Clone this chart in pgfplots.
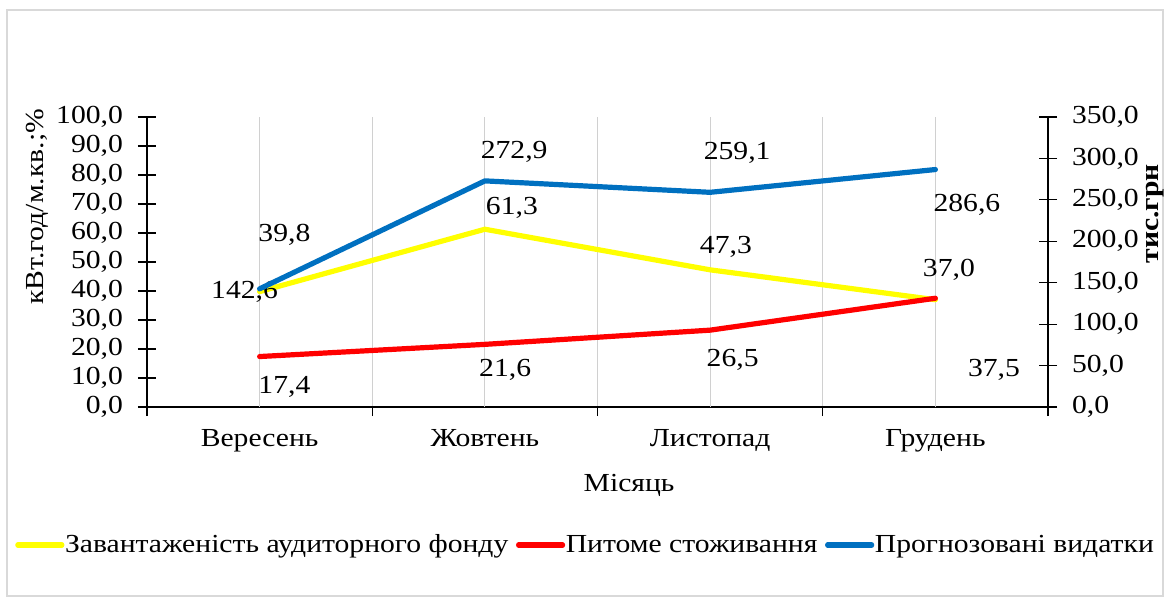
\documentclass[border=0pt]{standalone}
\usepackage{fontspec}
\setmainfont{Liberation Serif}[FakeStretch=1.14]
\usepackage{pgfplots}
\pgfplotsset{compat=1.18}
\definecolor{serY}{HTML}{FFFF00}
\definecolor{serR}{HTML}{FF0000}
\definecolor{serB}{HTML}{0070C0}
\definecolor{gridc}{HTML}{D0D0D0}
\definecolor{framec}{HTML}{D9D9D9}
\newcommand{\lab}{\fontsize{13}{15}\selectfont}

\pgfplotsset{
  common/.style={
    scale only axis, width=450.5pt, height=145pt,
    xmin=-0.5, xmax=3.5,
    tick label style={font=\lab},
    /pgf/number format/fixed,
    /pgf/number format/fixed zerofill,
    /pgf/number format/precision=1,
    /pgf/number format/use comma,
    /pgf/number format/1000 sep={},
    /pgf/number format/assume math mode=true,
    major tick length=9pt,
    ytick align=center,
    tick style={black, line width=0.6pt},
    axis line style={black, line width=0.6pt},
    clip=false,
  },
  ser/.style={line width=2.6pt, line cap=round, line join=round},
}

\begin{document}
\begin{tikzpicture}
\path[use as bounding box] (-73.5pt,-96pt) rectangle (511.5pt,203.5pt);
\draw[framec, line width=0.7pt] (-70pt,-94.5pt) rectangle (508pt,198.5pt);

\begin{axis}[common,
  axis x line*=bottom, axis y line*=left,
  ymin=0, ymax=100, ytick={0,10,...,100},
  yticklabel style={xshift=-4pt},
  xtick={-0.5,0.5,1.5,2.5,3.5}, xticklabels={},
  xtick align=outside,
  x tick style={dash pattern=on 4.5pt off 4.5pt, dash phase=4.5pt},
  xmajorgrids, grid style={gridc, line width=0.6pt, solid},
  extra x ticks={0,1,2,3},
  extra x tick labels={Вересень,Жовтень,Листопад,Грудень},
  extra x tick style={major tick length=0pt, grid=major,
    xticklabel style={anchor=base, yshift=-19.5pt}},
  legend style={draw=none, fill=none, font=\lab, legend columns=-1,
    at={(0.486,-0.476)}, anchor=center,
    /tikz/every even column/.append style={column sep=3.5pt},
    nodes={inner xsep=0.3pt},
    inner sep=0pt},
  legend image code/.code={\draw[#1] (0pt,0pt) -- (22pt,0pt);},
]
\addplot[ser, serY] coordinates {(0,39.8)(1,61.3)(2,47.3)(3,37.0)};
\addlegendentry{Завантаженість аудиторного фонду}
\addplot[ser, serR] coordinates {(0,17.4)(1,21.6)(2,26.5)(3,37.5)};
\addlegendentry{Питоме стоживання}
\addlegendimage{ser, serB}
\addlegendentry{Прогнозовані видатки}

\node[font=\lab] at (axis cs:0.11,59.3) {39,8};
\node[font=\lab] at (axis cs:1.12,68.6) {61,3};
\node[font=\lab] at (axis cs:2.07,55.2) {47,3};
\node[font=\lab] at (axis cs:3.06,47.2) {37,0};
\node[font=\lab] at (axis cs:0.11,6.9) {17,4};
\node[font=\lab] at (axis cs:1.09,12.8) {21,6};
\node[font=\lab] at (axis cs:2.10,16.2) {26,5};
\node[font=\lab] at (axis cs:3.26,12.8) {37,5};
\node[font=\lab] at (axis cs:-0.067,39.7) {142,6};
\node[font=\lab] at (axis cs:1.13,87.9) {272,9};
\node[font=\lab] at (axis cs:2.12,87.6) {259,1};
\node[font=\lab] at (axis cs:3.14,69.7) {286,6};

\node[font=\lab, rotate=90] at (rel axis cs:-0.122,0.69) {кВт.год/м.кв.;\%};
\node[font=\lab, anchor=base] at (rel axis cs:0.535,0) [yshift=-42pt] {Місяць};
\node[font=\lab\bfseries, rotate=90] at (rel axis cs:1.119,0.666) {тис.грн};
\end{axis}

\begin{axis}[common,
  axis x line=none, axis y line*=right,
  ymin=0, ymax=350, ytick={0,50,...,350},
  yticklabel style={xshift=4pt},
]
\addplot[ser, serB] coordinates {(0,142.6)(1,272.9)(2,259.1)(3,286.6)};
\end{axis}
\end{tikzpicture}
\end{document}
